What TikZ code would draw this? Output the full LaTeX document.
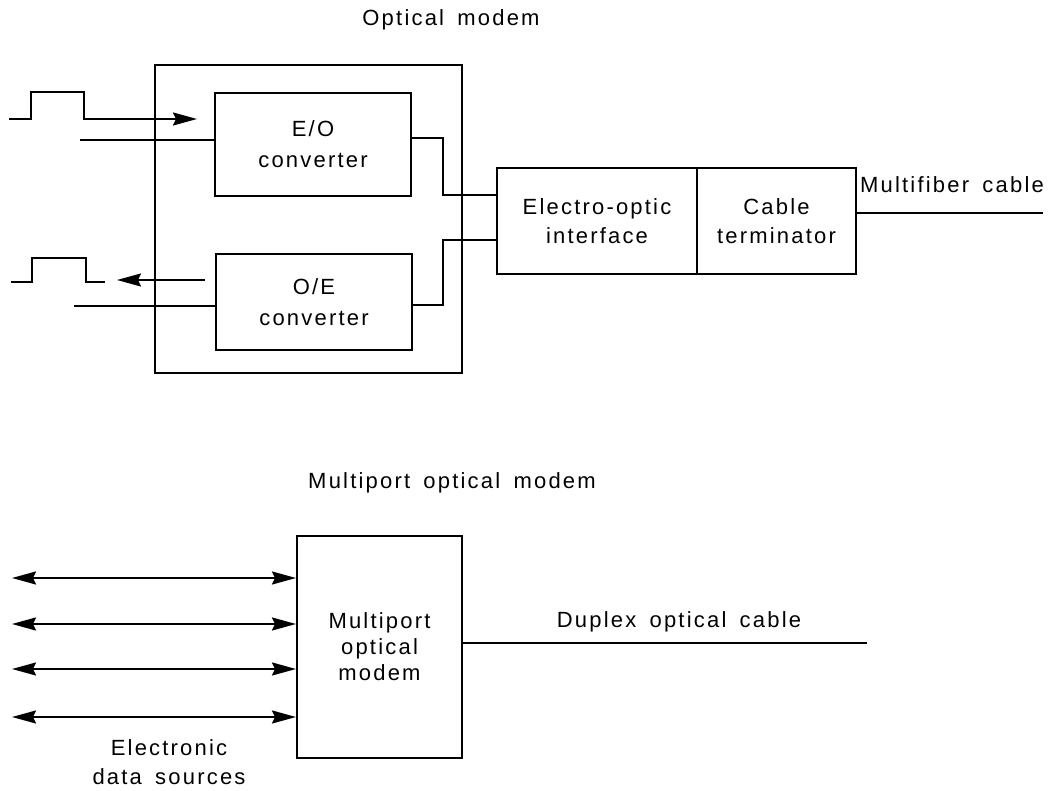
\documentclass[tikz,border=0pt]{standalone}
\usepackage{fontspec}
\setmainfont{Liberation Sans}[LetterSpace=10,WordSpace=1.6]
\usetikzlibrary{positioning,arrows.meta}

\begin{document}
\begin{tikzpicture}[x=1pt, y=-1pt, line width=2pt, >={Stealth[length=24pt,width=13pt,inset=3pt]},
    every node/.style={font=\fontsize{22}{31}\selectfont, align=center},
    block/.style={draw, rectangle, inner sep=0pt}]
    \useasboundingbox (0,0) rectangle (1058,791);

    % Optical modem
    \node (title) at (451,20) {Optical modem};
    \node[block, minimum width=307pt, minimum height=308pt] (modem) at (308.5,219) {};
    \node[block, minimum width=196pt, minimum height=103pt] (eo) at (313,144.5) {E/O\\converter};
    \node[block, minimum width=196pt, minimum height=96pt] (oe) at (314,302) {O/E\\converter};
    \node[block, minimum width=200pt, minimum height=106pt, font=\fontsize{22}{29}\selectfont] (eoi) at (597,221) {Electro-optic\\interface};
    \node[block, minimum width=159pt, minimum height=106pt, font=\fontsize{22}{29}\selectfont] (term) at (776.5,221) {Cable\\terminator};
    \node (mfc) at (952,185) {Multifiber cable};

    % Free ends
    \coordinate (eoin) at (80,140);
    \coordinate (oein) at (74,306);
    \coordinate (mfend) at (1043,213);

    % Pulses
    \draw[->] (9,119) -- (31,119) -- (31,92) -- (84,92) -- (84,119) -- (197,119);
    \draw (11,282) -| (32,258) -| (86,282) -- (105,282);
    \draw[->] (205,280) -- (117,280);

    % Lines
    \draw (eoin) -- (eo.west |- eoin);
    \draw (oein) -- (oe.west |- oein);
    \draw ([yshift=6.5pt]eo.east) -- ++(31,0) |- ([yshift=26pt]eoi.west);
    \draw ([yshift=-3pt]oe.east) -- ++(30,0) |- ([yshift=-19pt]eoi.west);
    \draw (term.east |- mfend) -- (mfend);

    % Multiport optical modem
    \node (title2) at (452,483) {Multiport optical modem};
    \node[block, minimum width=165pt, minimum height=222pt, font=\fontsize{22}{26}\selectfont] (mpm) at (379.5,647) {Multiport\\optical\\modem};
    \node[font=\fontsize{22}{29}\selectfont] (eds) at (169,762) {Electronic\\data sources};
    \node (dxc) at (679,622) {Duplex optical cable};
    \coordinate (dxend) at (867,643);

    \foreach \y in {578,624,669,717}
        \draw[<->] (12,\y) -- (mpm.west |- 0,\y);
    \draw (mpm.east |- dxend) -- (dxend);
\end{tikzpicture}
\end{document}
